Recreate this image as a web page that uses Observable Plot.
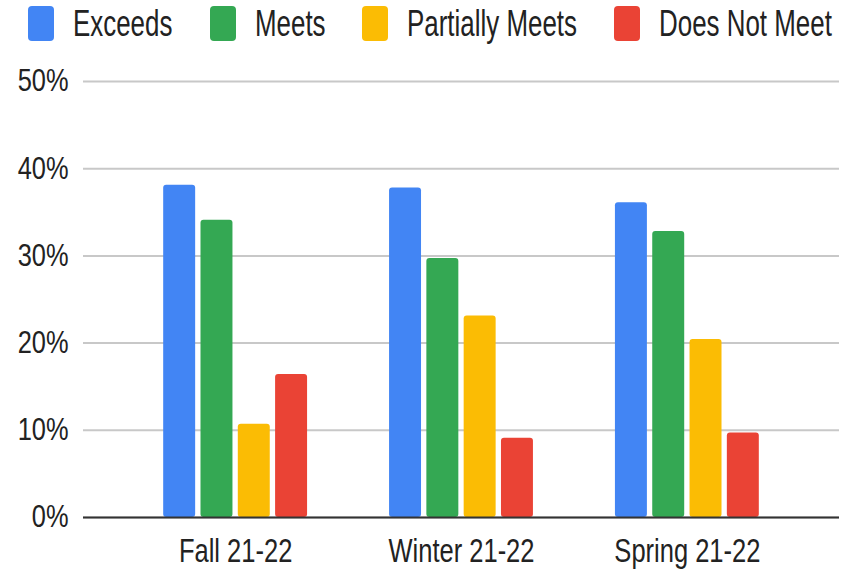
<!DOCTYPE html>
<html>
<head>
<meta charset="utf-8">
<script src="https://cdn.jsdelivr.net/npm/d3@7"></script>
<script src="https://cdn.jsdelivr.net/npm/@observablehq/plot@0.6"></script>
<style>
  html, body { margin: 0; padding: 0; background: #fff; }
  body { width: 848px; height: 572px; overflow: hidden; font-family: "Liberation Sans", Arial, sans-serif; }
  #legend { height: 50px; box-sizing: border-box; padding: 0 0 3px 28px; display: flex; align-items: center; }
  .item { display: flex; align-items: center; margin-right: 37px; }
  .sw { width: 26px; height: 35px; border-radius: 4px; margin-right: 19px; flex: none; }
  .lab { display: inline-block; font-size: 36px; line-height: 1; color: #222; white-space: nowrap; transform: scaleX(0.72); transform-origin: left center; }
</style>
</head>
<body>
<div id="legend"></div>
<div id="chart"></div>
<script>
const periods = ["Fall 21-22", "Winter 21-22", "Spring 21-22"];
const categories = ["Exceeds", "Meets", "Partially Meets", "Does Not Meet"];
const exceeds = [38.1, 37.8, 36.1];
const meets = [34.1, 29.7, 32.8];
const partiallyMeets = [10.7, 23.1, 20.4];
const doesNotMeet = [16.4, 9.1, 9.7];
const colors = ["#4285F4", "#34A853", "#FBBC04", "#EA4335"];
const yTicks = [0, 10, 20, 30, 40, 50];

const series = [exceeds, meets, partiallyMeets, doesNotMeet];
const rows = [];
categories.forEach((c, ci) => periods.forEach((p, pi) => rows.push({period: p, category: c, value: series[ci][pi]})));

// legend
const legend = document.getElementById("legend");
categories.forEach((c, i) => {
  const it = document.createElement("div");
  it.className = "item";
  const sw = document.createElement("span");
  sw.className = "sw";
  sw.style.background = colors[i];
  const lab = document.createElement("span");
  lab.className = "lab";
  lab.textContent = c;
  it.appendChild(sw);
  it.appendChild(lab);
  legend.appendChild(it);
});
legend.querySelectorAll(".lab").forEach(l => {
  const w = l.getBoundingClientRect().width;
  l.style.marginRight = (w - l.offsetWidth) + "px";
});

const width = 848, height = 522, marginLeft = 83, marginRight = 9;
const padIn = 0.363, padOut = 0.355;
const step = (width - marginLeft - marginRight) / (periods.length - padIn + 2 * padOut);
const bw = step * (1 - padIn);
const gapRatio = 0.143;
const barStep = bw / (categories.length - gapRatio);
const barW = barStep * (1 - gapRatio);

const chart = Plot.plot({
  width, height,
  marginLeft, marginRight, marginTop: 31, marginBottom: 55,
  style: {fontFamily: "Liberation Sans, Arial, sans-serif", color: "#222", background: "#fff"},
  x: {domain: periods, paddingInner: padIn, paddingOuter: padOut, round: false, label: null},
  y: {domain: [0, 50], label: null},
  marks: [
    Plot.gridY({ticks: yTicks, stroke: "#c8c8c8", strokeOpacity: 1, strokeWidth: 2}),
    ...categories.map((c, i) => Plot.barY(rows.filter(r => r.category === c), {
      x: "period", y: "value", fill: colors[i], rx: 3,
      insetLeft: i * barStep, insetRight: bw - barW - i * barStep
    })),
    Plot.ruleY([0], {stroke: "#333", strokeWidth: 2}),
    Plot.axisY({ticks: yTicks, tickFormat: d => d + "%", tickSize: 0, tickPadding: 15, fontSize: 31, label: null}),
    Plot.axisX({tickSize: 0, tickPadding: 20, fontSize: 34, label: null})
  ]
});
document.getElementById("chart").appendChild(chart);

// condense text horizontally
const scales = {y: 0.82, x: 0.75};
chart.querySelectorAll("g[aria-label='y-axis tick label'] text").forEach(t => {
  t.setAttribute("transform", (t.getAttribute("transform") || "") + " scale(" + scales.y + ",1)");
});
chart.querySelectorAll("g[aria-label='x-axis tick label'] text").forEach(t => {
  t.setAttribute("transform", (t.getAttribute("transform") || "") + " scale(" + scales.x + ",1)");
});
</script>
</body>
</html>
